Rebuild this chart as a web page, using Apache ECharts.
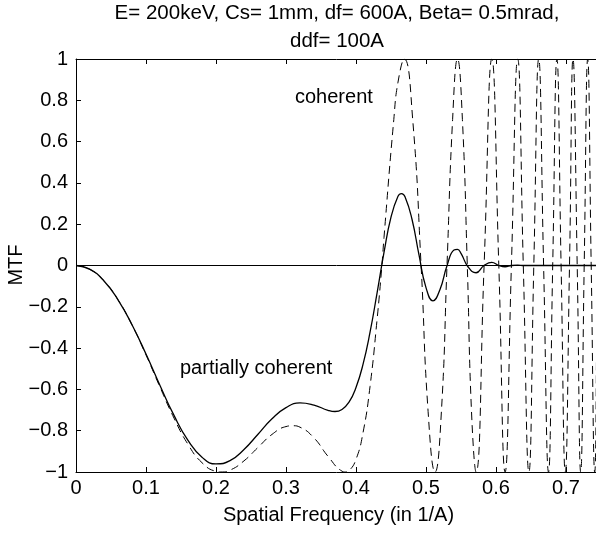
<!DOCTYPE html>
<html>
<head>
<meta charset="utf-8">
<script src="https://cdn.jsdelivr.net/npm/echarts@6/dist/echarts.min.js"></script>
<style>
  html, body { margin: 0; padding: 0; background: #fff; }
  #chart { width: 596px; height: 533px; }
</style>
</head>
<body>
<div id="chart"></div>
<script>
// coherent transfer function (dashed)
const freqCoherent = [0, 0.02, 0.04, 0.06, 0.08, 0.10, 0.12, 0.14, 0.16, 0.18, 0.20, 0.207, 0.22, 0.24, 0.26, 0.28, 0.30, 0.31, 0.32, 0.34, 0.36, 0.38, 0.385, 0.39, 0.40, 0.41, 0.42, 0.43, 0.437, 0.44, 0.454, 0.46, 0.469, 0.481, 0.493, 0.503, 0.513, 0.522, 0.530, 0.538, 0.545, 0.552, 0.559, 0.565, 0.5715, 0.583, 0.594, 0.604, 0.613, 0.622, 0.631, 0.639, 0.647, 0.654, 0.661, 0.668, 0.675, 0.681, 0.687, 0.693, 0.699, 0.705, 0.710, 0.716, 0.721, 0.726, 0.731, 0.736, 0.741, 0.745, 0.750]
const mtfCoherent = [0, -0.019, -0.075, -0.166, -0.288, -0.433, -0.589, -0.739, -0.866, -0.955, -0.997, -1, -0.991, -0.946, -0.881, -0.818, -0.780, -0.776, -0.783, -0.835, -0.924, -0.996, -1, -0.994, -0.939, -0.810, -0.587, -0.265, 0, 0.136, 0.707, 0.888, 1, 0.707, 0, -0.707, -1, -0.707, 0, 0.707, 1, 0.707, 0, -0.707, -1, 0, 1, 0, -1, 0, 1, 0, -1, 0, 1, 0, -1, 0, 1, 0, -1, 0, 1, 0, -1, 0, 1, 0, -1, 0, 1]

// partially coherent (solid)
const freqPartial = [0, 0.02, 0.04, 0.06, 0.08, 0.10, 0.12, 0.14, 0.16, 0.18, 0.20, 0.22, 0.24, 0.26, 0.28, 0.30, 0.32, 0.34, 0.36, 0.37, 0.38, 0.39, 0.40, 0.41, 0.42, 0.43, 0.44, 0.45, 0.46, 0.465, 0.47, 0.48, 0.49, 0.50, 0.51, 0.52, 0.53, 0.54, 0.545, 0.55, 0.56, 0.5715, 0.583, 0.594, 0.604, 0.613, 0.622, 0.631, 0.64, 0.75]
const mtfPartial = [0, -0.019, -0.075, -0.166, -0.287, -0.429, -0.581, -0.726, -0.847, -0.928, -0.961, -0.945, -0.891, -0.817, -0.742, -0.688, -0.665, -0.676, -0.701, -0.707, -0.697, -0.662, -0.591, -0.479, -0.324, -0.135, 0.063, 0.234, 0.335, 0.348, 0.333, 0.224, 0.051, -0.107, -0.171, -0.116, -0.001, 0.075, 0.078, 0.059, -0.006, -0.035, 0, 0.015, 0, -0.006, 0, 0.002, 0, 0]

const titleLines = ['E= 200keV, Cs= 1mm, df= 600A, Beta= 0.5mrad,', 'ddf= 100A']

const FONT = '"Liberation Sans", Arial, Helvetica, sans-serif'
const INK = '#000'

function fmtY(v) {
  const s = String(Math.round(Math.abs(v) * 10) / 10)
  return v < 0 ? '\u2212' + s : s
}

const chart = echarts.init(document.getElementById('chart'), null, { renderer: 'canvas' })

const axisCommon = {
  axisLine: { show: true, onZero: false, lineStyle: { color: INK, width: 1 } },
  axisTick: { show: true, inside: true, length: 5, lineStyle: { color: INK } },
  splitLine: { show: false },
}

const option = {
  animation: false,
  backgroundColor: '#fff',
  textStyle: { fontFamily: FONT },
  // the right edge of the axes box sits just past the picture edge
  grid: { left: 76, top: 59, right: -5, bottom: 61, containLabel: false, outerBoundsMode: 'none' },
  xAxis: [
    {
      ...axisCommon,
      type: 'value', min: 0, max: 0.75, interval: 0.1,
      axisLabel: { color: INK, fontSize: 20, fontFamily: FONT, margin: 6, showMaxLabel: false },
      name: 'Spatial Frequency (in 1/A)',
      nameLocation: 'middle', nameGap: 33,
      nameTextStyle: { color: INK, fontSize: 20, fontFamily: FONT },
    },
    {
      ...axisCommon,
      type: 'value', min: 0, max: 0.75, interval: 0.1, position: 'top',
      axisLabel: { show: false },
    },
  ],
  yAxis: [
    {
      ...axisCommon,
      type: 'value', min: -1, max: 1, interval: 0.2,
      axisLabel: { color: INK, fontSize: 20, fontFamily: FONT, margin: 8, formatter: fmtY },
    },
    {
      ...axisCommon,
      type: 'value', min: -1, max: 1, interval: 0.2, position: 'right',
      axisLabel: { show: false },
    },
  ],
  graphic: [
    {
      type: 'text', x: 337, y: -1,
      style: { text: titleLines.join('\n'), fill: INK, font: '20.5px ' + FONT, align: 'center', verticalAlign: 'top', lineHeight: 28 },
    },
    {
      // y axis title, rotated to read bottom-to-top
      type: 'text', x: 16, y: 265, rotation: Math.PI / 2,
      style: { text: 'MTF', fill: INK, font: '20px ' + FONT, align: 'center', verticalAlign: 'middle' },
    },
    {
      type: 'text', x: 295, y: 97,
      style: { text: 'coherent', fill: INK, font: '20px ' + FONT, align: 'left', verticalAlign: 'middle' },
    },
    {
      type: 'text', x: 180, y: 368,
      style: { text: 'partially coherent', fill: INK, font: '20px ' + FONT, align: 'left', verticalAlign: 'middle' },
    },
  ],
  series: [
    {
      name: 'coherent',
      type: 'line',
      data: freqCoherent.map((f, i) => [f, mtfCoherent[i]]),
      smooth: 0.5,
      showSymbol: false,
      lineStyle: { color: INK, width: 1, type: [8, 5] },
    },
    {
      name: 'partially coherent',
      type: 'line',
      data: freqPartial.map((f, i) => [f, mtfPartial[i]]),
      smooth: 0.5,
      showSymbol: false,
      lineStyle: { color: INK, width: 1.3, type: 'solid' },
      markLine: {
        silent: true,
        symbol: 'none',
        label: { show: false },
        lineStyle: { color: INK, width: 1, type: 'solid' },
        data: [{ yAxis: 0 }],
      },
    },
  ],
}

chart.setOption(option)
</script>
</body>
</html>
